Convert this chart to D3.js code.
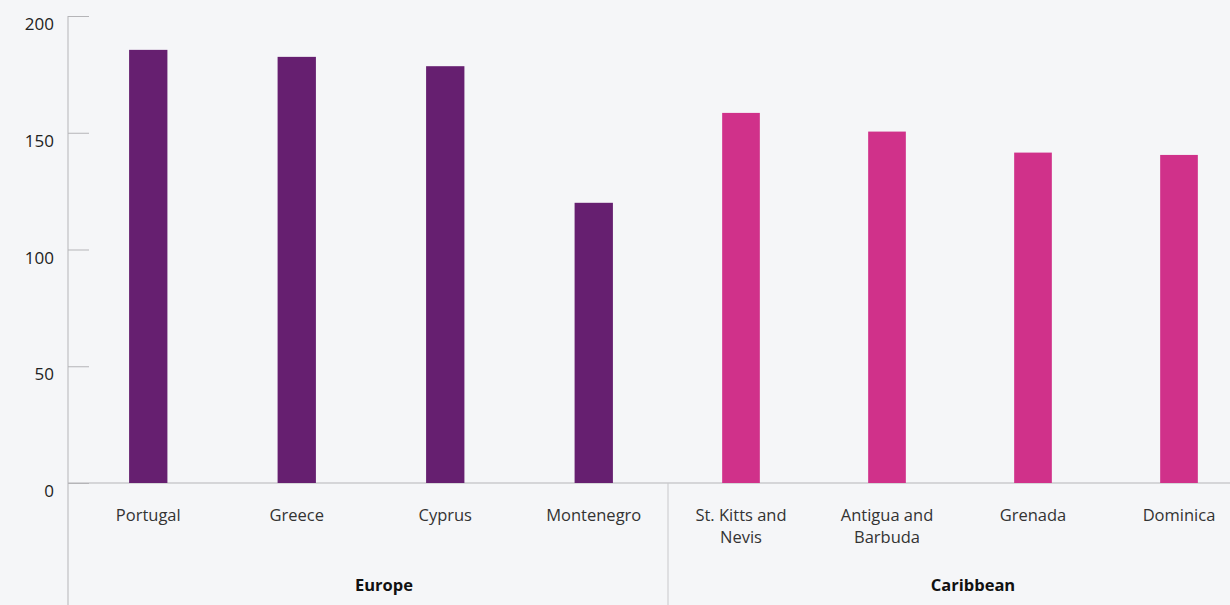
<!DOCTYPE html>
<html>
<head>
<meta charset="utf-8">
<script src="https://cdn.jsdelivr.net/npm/d3@7"></script>
<style>
  html, body { margin: 0; padding: 0; background: #f5f6f8; }
  svg { display: block; font-family: "Open Sans", sans-serif; }
</style>
</head>
<body>
<script>
const categories = ["Portugal", "Greece", "Cyprus", "Montenegro", "St. Kitts and Nevis", "Antigua and Barbuda", "Grenada", "Dominica"];
const labelLines = [["Portugal"], ["Greece"], ["Cyprus"], ["Montenegro"], ["St. Kitts and", "Nevis"], ["Antigua and", "Barbuda"], ["Grenada"], ["Dominica"]];
const values = [185.5, 182.5, 178.5, 120, 158.5, 150.5, 141.5, 140.5];
const groupOf = ["Europe", "Europe", "Europe", "Europe", "Caribbean", "Caribbean", "Caribbean", "Caribbean"];
const groups = ["Europe", "Caribbean"];
const groupColors = ["#661f70", "#d0318a"];
const yTicks = [0, 50, 100, 150, 200];

const W = 1230, H = 605;
const svg = d3.select("body").append("svg").attr("width", W).attr("height", H);
svg.append("rect").attr("width", W).attr("height", H).attr("fill", "#f5f6f8");

const axisX = 68, y0 = 483, yTop = 16;
const y = d3.scaleLinear().domain([0, 200]).range([y0, yTop]);
// group extents (layout) and per-group band scales
const groupRange = d3.scaleOrdinal().domain(groups).range([[74, 668], [668, 1252]]);
const inner = {};
groups.forEach(g => {
  inner[g] = d3.scaleBand()
    .domain(categories.filter((c, i) => groupOf[i] === g))
    .range(groupRange(g))
    .paddingInner(0.742).paddingOuter(0.371);
});
const xOf = (c, i) => inner[groupOf[i]](c);
const bw = g => inner[g].bandwidth();
const color = d3.scaleOrdinal().domain(groups).range(groupColors);

// y axis
const yAxis = d3.axisLeft(y).tickValues(yTicks).tickSize(-21).tickPadding(14).tickFormat(d3.format("d"));
const gy = svg.append("g").attr("transform", `translate(${axisX},0)`).call(yAxis);
gy.select(".domain").remove();
gy.selectAll(".tick line").attr("stroke", "#b5b5b8");
gy.selectAll(".tick text").attr("font-size", 17).attr("fill", "#222").attr("dy", "0.8em")
  .attr("font-family", "'Open Sans', sans-serif");

// vertical axis line
svg.append("line").attr("x1", axisX).attr("x2", axisX).attr("y1", yTop).attr("y2", H)
  .attr("stroke", "#b5b5b8").attr("stroke-width", 1);
// baseline
svg.append("line").attr("x1", axisX).attr("x2", W).attr("y1", y0).attr("y2", y0)
  .attr("stroke", "#b5b5b8").attr("stroke-width", 1);

// bars
svg.append("g").selectAll("rect").data(categories).join("rect")
  .attr("x", (d, i) => xOf(d, i))
  .attr("width", (d, i) => bw(groupOf[i]))
  .attr("y", (d, i) => y(values[i]))
  .attr("height", (d, i) => y0 - y(values[i]))
  .attr("fill", (d, i) => color(groupOf[i]));

// category labels
const lab = svg.append("g").selectAll("text").data(categories).join("text")
  .attr("y", 521)
  .attr("text-anchor", "middle")
  .attr("font-size", 16.5)
  .attr("fill", "#333");
lab.each(function(d, i) {
  const t = d3.select(this);
  const cx = xOf(d, i) + bw(groupOf[i]) / 2;
  labelLines[i].forEach((ln, j) => {
    t.append("tspan").attr("x", cx).attr("dy", j === 0 ? 0 : 22).text(ln);
  });
});

// group dividers (between groups)
const divX = groups.slice(1).map(g => groupRange(g)[0]);
svg.append("g").selectAll("line").data(divX).join("line")
  .attr("x1", d => d).attr("x2", d => d).attr("y1", y0).attr("y2", H)
  .attr("stroke", "#c8c8cb").attr("stroke-width", 1);

// group labels
svg.append("g").selectAll("text").data(groups).join("text")
  .attr("x", g => d3.mean(groupRange(g)) + 13)
  .attr("y", 591)
  .attr("text-anchor", "middle")
  .attr("font-size", 16.5)
  .attr("font-weight", "bold")
  .attr("fill", "#111")
  .text(g => g);
</script>
</body>
</html>
